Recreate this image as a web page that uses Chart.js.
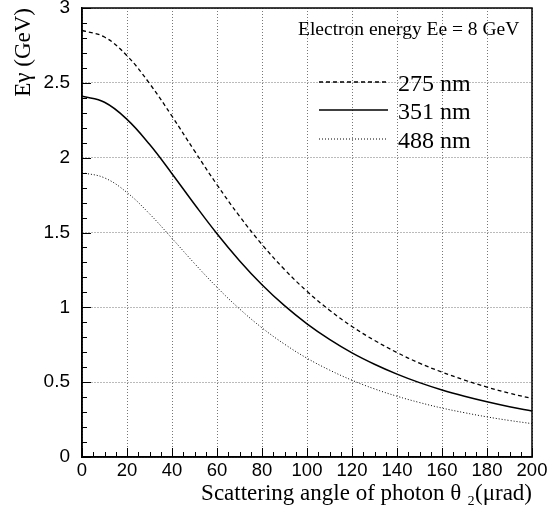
<!DOCTYPE html>
<html>
<head>
<meta charset="utf-8">
<script src="https://cdn.jsdelivr.net/npm/chart.js@4.4.1/dist/chart.umd.min.js"></script>
<style>
html, body { margin: 0; padding: 0; background: #fff; }
#wrap { width: 554px; height: 512px; }
</style>
</head>
<body>
<div id="wrap"><canvas id="myChart" width="554" height="512"></canvas></div>
<script>
// scattering angle (µrad)
var theta = [0, 10, 20, 30, 40, 50, 60, 70, 80, 90, 100, 110, 120, 130, 140, 150, 160, 170, 180, 190, 200];
// photon energy (GeV)
var e275 = [2.850, 2.806, 2.681, 2.496, 2.277, 2.045, 1.819, 1.609, 1.420, 1.253, 1.107, 0.981, 0.872, 0.779, 0.698, 0.627, 0.567, 0.514, 0.467, 0.426, 0.391];
var e351 = [2.410, 2.370, 2.256, 2.089, 1.893, 1.689, 1.492, 1.312, 1.151, 1.011, 0.890, 0.786, 0.696, 0.620, 0.554, 0.497, 0.448, 0.406, 0.369, 0.336, 0.308];
var e488 = [1.900, 1.865, 1.767, 1.625, 1.461, 1.293, 1.134, 0.990, 0.863, 0.754, 0.660, 0.581, 0.513, 0.455, 0.406, 0.364, 0.327, 0.296, 0.268, 0.244, 0.223];
var seriesNames = ['275 nm', '351 nm', '488 nm'];
var noteText = 'Electron energy Ee = 8 GeV';
var xTitle = 'Scattering angle of photon \u03b8 \u2082(\u03bcrad)';
var yTitle = 'E\u03b3 (GeV)';

var SERIF = '"Liberation Serif", "Times New Roman", serif';
var SANS = '"Liberation Sans", Arial, sans-serif';

function toPoints(ys) {
    var pts = [];
    for (var i = 0; i < theta.length; i++) {
        pts.push({x: theta[i], y: ys[i]});
    }
    return pts;
}

function isMajorX(v) { return Math.round(v) % 20 === 0; }
function isMajorY(v) { return Math.round(v * 10) % 5 === 0; }

// legend and note drawn inside the frame
var insideLegend = {
    id: 'insideLegend',
    afterDraw: function(chart) {
        var ctx = chart.ctx;
        var rows = [82, 110, 139];
        ctx.save();
        ctx.fillStyle = '#000';
        ctx.textBaseline = 'alphabetic';
        ctx.textAlign = 'left';
        ctx.font = '19.5px ' + SERIF;
        ctx.fillText(noteText, 298, 35);
        ctx.font = '24px ' + SERIF;
        chart.data.datasets.forEach(function(ds, i) {
            var y = rows[i];
            ctx.beginPath();
            ctx.setLineDash(ds.borderDash || []);
            ctx.lineWidth = ds.borderWidth;
            ctx.strokeStyle = ds.borderColor;
            ctx.moveTo(319, y);
            ctx.lineTo(388, y);
            ctx.stroke();
            ctx.setLineDash([]);
            ctx.fillText(ds.label, 398, y + 9);
        });
        ctx.restore();
    }
};

// inner tick marks and the black frame
var frameTicks = {
    id: 'frameTicks',
    afterDraw: function(chart) {
        var a = chart.chartArea;
        var ctx = chart.ctx;
        var xs = chart.scales.x;
        var ys = chart.scales.y;
        ctx.save();
        ctx.strokeStyle = '#000';
        ctx.lineWidth = 1;
        ctx.setLineDash([]);
        ctx.beginPath();
        ys.ticks.forEach(function(t) {
            var p = Math.round(ys.getPixelForValue(t.value)) + 0.5;
            var len = isMajorY(t.value) ? 9 : 5;
            ctx.moveTo(a.left, p);
            ctx.lineTo(a.left + len, p);
        });
        xs.ticks.forEach(function(t) {
            var p = Math.round(xs.getPixelForValue(t.value)) + 0.5;
            var len = isMajorX(t.value) ? 9 : 5;
            ctx.moveTo(p, a.bottom);
            ctx.lineTo(p, a.bottom - len);
        });
        ctx.stroke();
        ctx.lineWidth = 1.5;
        ctx.strokeRect(a.left, a.top, a.right - a.left, a.bottom - a.top);
        ctx.restore();
    }
};

var ctx = document.getElementById('myChart');
var myChart = new Chart(ctx, {
    type: 'line',
    data: {
        datasets: [{
            label: seriesNames[0],
            data: toPoints(e275),
            borderColor: '#000',
            borderWidth: 1.3,
            borderDash: [4, 3],
            pointRadius: 0,
            fill: false,
            tension: 0.4
        }, {
            label: seriesNames[1],
            data: toPoints(e351),
            borderColor: '#000',
            borderWidth: 1.5,
            borderDash: [],
            pointRadius: 0,
            fill: false,
            tension: 0.4
        }, {
            label: seriesNames[2],
            data: toPoints(e488),
            borderColor: '#000',
            borderWidth: 1,
            borderDash: [1, 2],
            pointRadius: 0,
            fill: false,
            tension: 0.4
        }]
    },
    options: {
        responsive: false,
        animation: false,
        devicePixelRatio: 1,
        layout: { padding: { left: 0, top: 8, right: 22, bottom: 0 } },
        plugins: {
            legend: { display: false },
            tooltip: { enabled: false }
        },
        scales: {
            x: {
                type: 'linear',
                min: 0,
                max: 200,
                afterFit: function(scale) {
                    scale.height = 55;
                    scale.paddingLeft = 0;
                    scale.paddingRight = 0;
                },
                ticks: {
                    stepSize: 5,
                    autoSkip: false,
                    maxRotation: 0,
                    padding: 3,
                    color: '#000',
                    font: { family: SANS, size: 18.5 },
                    callback: function(v) { return isMajorX(v) ? String(Math.round(v)) : ''; }
                },
                grid: {
                    drawTicks: false,
                    lineWidth: 1,
                    color: function(c) {
                        return c.tick && isMajorX(c.tick.value) ? '#777' : 'rgba(0,0,0,0)';
                    }
                },
                border: { display: true, color: '#000', width: 1.5, dash: [1, 2] },
                title: {
                    display: true,
                    text: xTitle,
                    align: 'end',
                    color: '#000',
                    font: { family: SERIF, size: 23 },
                    padding: { top: 0, bottom: 4 }
                }
            },
            y: {
                min: 0,
                max: 3,
                afterFit: function(scale) {
                    scale.width = 82;
                    scale.paddingTop = 0;
                    scale.paddingBottom = 0;
                },
                ticks: {
                    stepSize: 0.1,
                    autoSkip: false,
                    padding: 12,
                    color: '#000',
                    font: { family: SANS, size: 19 },
                    callback: function(v) {
                        if (!isMajorY(v)) return '';
                        return String(Math.round(v * 10) / 10);
                    }
                },
                grid: {
                    drawTicks: false,
                    lineWidth: 1,
                    color: function(c) {
                        return c.tick && isMajorY(c.tick.value) ? '#777' : 'rgba(0,0,0,0)';
                    }
                },
                border: { display: true, color: '#000', width: 1.5, dash: [1, 2] },
                title: {
                    display: true,
                    text: yTitle,
                    align: 'end',
                    color: '#000',
                    font: { family: SERIF, size: 23 },
                    padding: { top: 10, bottom: 0 }
                }
            }
        }
    },
    plugins: [insideLegend, frameTicks]
});
</script>
</body>
</html>
